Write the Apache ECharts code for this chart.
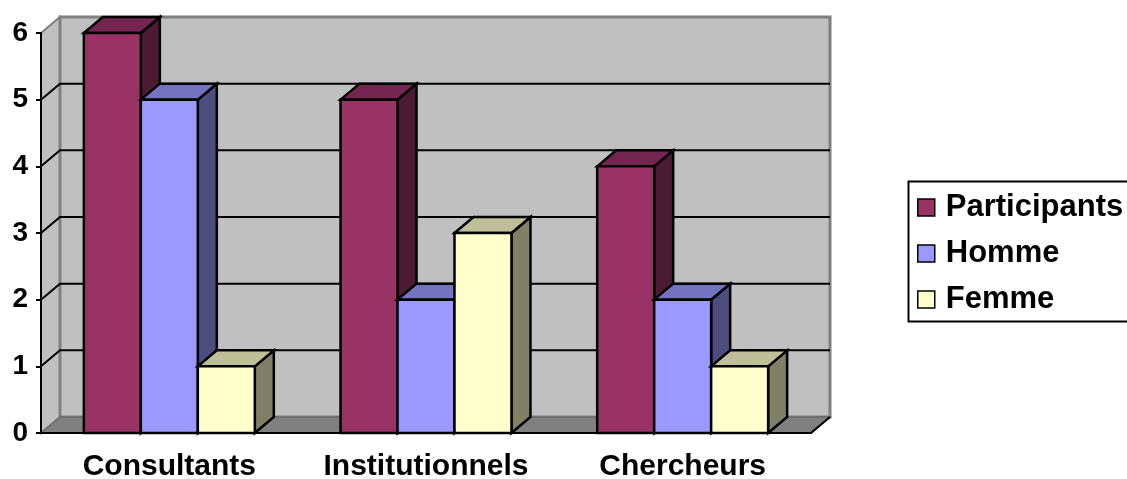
<!DOCTYPE html>
<html>
<head>
<meta charset="utf-8">
<script src="https://cdn.jsdelivr.net/npm/echarts@6/dist/echarts.min.js"></script>
<style>
  html, body { margin: 0; padding: 0; background: #fff; }
  #chart { width: 1127px; height: 479px; }
</style>
</head>
<body>
<div id="chart"></div>
<script>
var categories = ['Consultants', 'Institutionnels', 'Chercheurs']
var participants = [6, 5, 4]
var homme = [5, 2, 2]
var femme = [1, 3, 1]
var yTicks = [0, 1, 2, 3, 4, 5, 6]

// depth of the fake 3d look, in pixels
var DX = 19
var DY = -16
var BAR_RATIO = 0.222

var colors = [
  { front: '#993366', top: '#732650', side: '#4d1a33' },
  { front: '#9999ff', top: '#7373bf', side: '#4d4d80' },
  { front: '#ffffcc', top: '#bfbf99', side: '#808066' }
]

function barItem(idx) {
  return function (params, api) {
    var cat = api.value(0)
    var val = api.value(1)
    var band = api.size([1, 0])[0]
    var bw = band * BAR_RATIO
    var base = api.coord([cat, 0])
    var top = api.coord([cat, val])
    var x0 = base[0] - 1.5 * bw + idx * bw
    var x1 = x0 + bw
    var y0 = base[1]
    var y1 = top[1]
    var c = colors[idx]
    var line = { stroke: '#000', lineWidth: 2.5, lineJoin: 'miter' }
    return {
      type: 'group',
      children: [
        {
          type: 'polygon',
          shape: { points: [[x1, y1], [x1 + DX, y1 + DY], [x1 + DX, y0 + DY], [x1, y0]] },
          style: Object.assign({ fill: c.side }, line)
        },
        {
          type: 'polygon',
          shape: { points: [[x0, y1], [x0 + DX, y1 + DY], [x1 + DX, y1 + DY], [x1, y1]] },
          style: Object.assign({ fill: c.top }, line)
        },
        {
          type: 'rect',
          shape: { x: x0, y: y1, width: bw, height: y0 - y1 },
          style: Object.assign({ fill: c.front }, line)
        }
      ]
    }
  }
}

function wallsItem(params, api) {
  var cs = params.coordSys
  var l = cs.x, r = cs.x + cs.width
  var t = cs.y, b = cs.y + cs.height
  var kids = []
  // left side wall
  kids.push({
    type: 'polygon',
    shape: { points: [[l, t], [l + DX, t + DY], [l + DX, b + DY], [l, b]] },
    style: { fill: '#c0c0c0', stroke: '#808080', lineWidth: 2 }
  })
  // back wall
  kids.push({
    type: 'rect',
    shape: { x: l + DX, y: t + DY, width: cs.width, height: cs.height },
    style: { fill: '#c0c0c0', stroke: '#808080', lineWidth: 3 }
  })
  // grid lines
  yTicks.forEach(function (v) {
    if (v === 0 || v === yTicks[yTicks.length - 1]) return
    var y = api.coord([0, v])[1]
    kids.push({
      type: 'polyline',
      shape: { points: [[l, y], [l + DX, y + DY], [r + DX, y + DY]] },
      style: { fill: null, stroke: '#000', lineWidth: 2 }
    })
  })
  // floor
  kids.push({
    type: 'polygon',
    shape: { points: [[l, b], [l + DX, b + DY], [r + DX, b + DY], [r, b]] },
    style: { fill: '#808080', stroke: '#6a6a6a', lineWidth: 1.5 }
  })
  kids.push({
    type: 'line',
    shape: { x1: r, y1: b, x2: r + DX, y2: b + DY },
    style: { stroke: '#000', lineWidth: 2 }
  })
  return { type: 'group', children: kids }
}

function toData(arr) {
  return arr.map(function (v, i) { return [i, v] })
}

var names = ['Participants', 'Homme', 'Femme']
var values = [participants, homme, femme]

var series = [{
  name: 'walls',
  type: 'custom',
  z: 1,
  silent: true,
  renderItem: wallsItem,
  data: [[0, 0]],
  encode: { x: 0, y: 1 }
}]
names.forEach(function (n, i) {
  series.push({
    name: n,
    type: 'custom',
    z: 2,
    renderItem: barItem(i),
    itemStyle: { color: colors[i].front },
    data: toData(values[i]),
    encode: { x: 0, y: 1 }
  })
})

var chart = echarts.init(document.getElementById('chart'))
var option = {
  animation: false,
  grid: { left: 41, right: 316, top: 33, bottom: 46, outerBoundsMode: 'none' },
  // legend frame runs past the right edge, like the original
  graphic: [{
    type: 'rect',
    left: 906,
    top: 179,
    shape: { width: 240, height: 140 },
    style: { fill: null, stroke: '#000', lineWidth: 2 }
  }],
  legend: {
    data: names,
    orient: 'vertical',
    left: 907,
    top: 180,
    padding: [12, 0, 6, 10],
    itemGap: 15,
    itemWidth: 17,
    itemHeight: 17,
    icon: 'rect',
    itemStyle: { borderColor: '#000', borderWidth: 1.5 },
    textStyle: {
      fontFamily: 'Liberation Sans',
      fontWeight: 'bold',
      fontSize: 31,
      color: '#000',
      padding: [0, 0, 0, 6]
    }
  },
  xAxis: {
    type: 'category',
    data: categories,
    z: 10,
    axisLine: { lineStyle: { color: '#000', width: 2 } },
    axisTick: { length: 8, lineStyle: { color: '#000', width: 2 } },
    axisLabel: {
      interval: 0,
      margin: 19,
      fontFamily: 'Liberation Sans',
      fontWeight: 'bold',
      fontSize: 30,
      color: '#000'
    }
  },
  yAxis: {
    type: 'value',
    min: 0,
    max: 6,
    interval: 1,
    z: 10,
    splitLine: { show: false },
    axisLine: { show: true, lineStyle: { color: '#000', width: 2 } },
    axisTick: { show: true, length: 5, lineStyle: { color: '#000', width: 2 } },
    axisLabel: {
      margin: 13,
      fontFamily: 'Liberation Sans',
      fontWeight: 'bold',
      fontSize: 28,
      color: '#000'
    }
  },
  series: series
}
chart.setOption(option)
</script>
</body>
</html>
